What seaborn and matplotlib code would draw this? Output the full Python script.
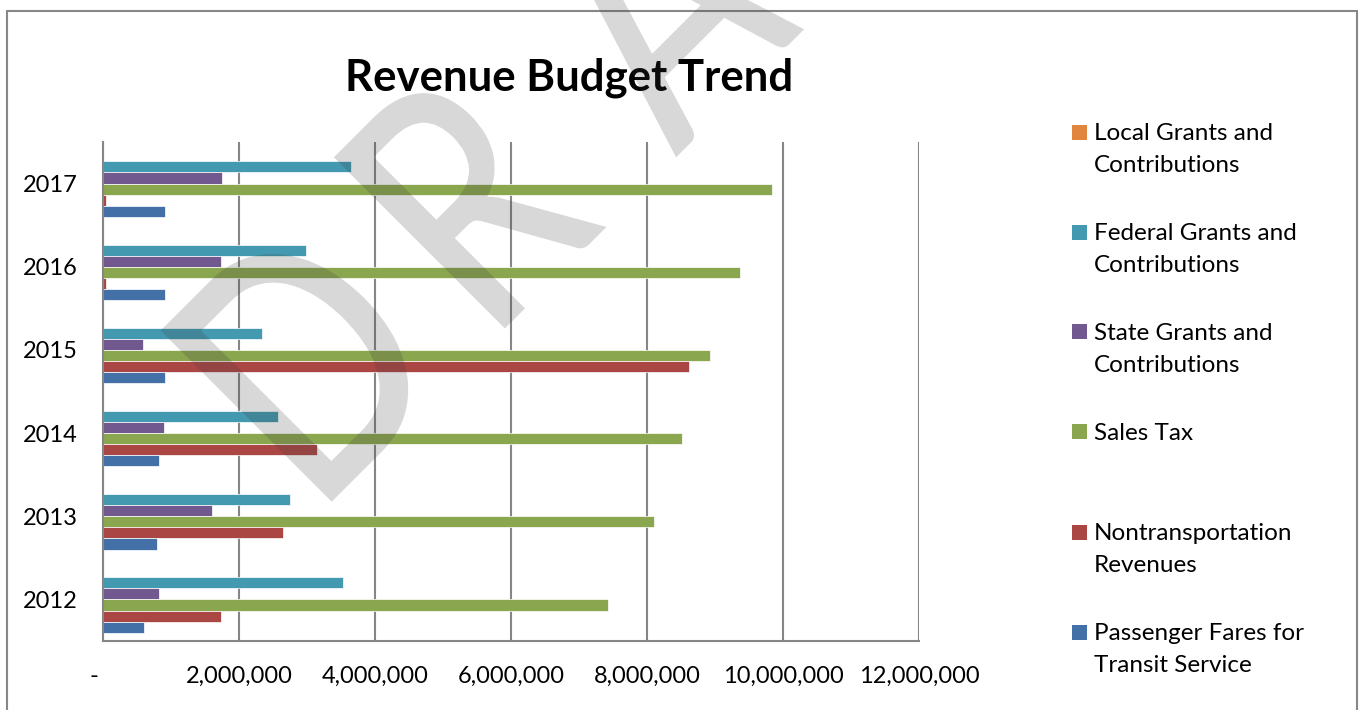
import pandas as pd
import numpy as np
import matplotlib
matplotlib.use('Agg')
import matplotlib.pyplot as plt
import seaborn as sns
from matplotlib.patches import Rectangle, PathPatch
from matplotlib.ticker import FuncFormatter
from matplotlib.textpath import TextPath
from matplotlib.font_manager import FontProperties
from matplotlib.transforms import Affine2D

# %% data
years = ['2012', '2013', '2014', '2015', '2016', '2017']
sources = ['Local Grants and\nContributions', 'Federal Grants and\nContributions',
           'State Grants and\nContributions', 'Sales Tax',
           'Nontransportation\nRevenues', 'Passenger Fares for\nTransit Service']
local_grants = [0, 0, 0, 0, 0, 0]
federal_grants = [3525000, 2750000, 2567000, 2339000, 2981000, 3643000]
state_grants = [829000, 1603000, 893000, 584000, 1731000, 1750000]
sales_tax = [7420000, 8100000, 8510000, 8920000, 9370000, 9840000]
nontransportation = [1731000, 2647000, 3153000, 8620000, 40000, 40000]
passenger_fares = [609000, 790000, 819000, 907000, 907000, 907000]
colors = ['#E0863E', '#4399AF', '#71588F', '#8AA64E', '#AA4644', '#4470A8']

df = pd.DataFrame({
    'Year': years * 6,
    'Source': np.repeat(sources, len(years)),
    'Revenue': local_grants + federal_grants + state_grants + sales_tax
               + nontransportation + passenger_fares,
})

# %% style
plt.rcParams['font.family'] = 'Lato'
GRID = '#868686'
W, H = 1362, 710

fig = plt.figure(figsize=(W / 100, H / 100), dpi=100)
fig.patch.set_facecolor('white')
ax = fig.add_axes([103 / W, 1 - 641 / H, (919 - 103) / W, (641 - 142) / H])

sns.barplot(data=df, x='Revenue', y='Year', hue='Source', order=years[::-1],
            hue_order=sources, palette=colors, orient='h', width=0.8,
            saturation=1, edgecolor='white', linewidth=0.5, legend=False, ax=ax)

ax.set_xlim(0, 12e6)
ax.set_xticks(np.arange(0, 12e6 + 1, 2e6))
ax.xaxis.set_major_formatter(FuncFormatter(lambda v, p: '-   ' if v == 0 else f'{v:,.0f}'))
ax.set_xlabel('')
ax.set_ylabel('')
ax.grid(axis='x', color=GRID, linewidth=1.5)
ax.set_axisbelow(True)
for s in ['top', 'right']:
    ax.spines[s].set_visible(False)
for s in ['left', 'bottom']:
    ax.spines[s].set_color(GRID)
    ax.spines[s].set_linewidth(1.5)
ax.tick_params(axis='x', length=0, labelsize=17, pad=18)
ax.tick_params(axis='y', length=0, labelsize=17, pad=18)

# title
fig.text(569 / W, 1 - 91 / H, 'Revenue Budget Trend', ha='center', va='baseline',
         fontsize=31.5, fontweight='bold')

# legend (one entry every 100 px, square next to the first text line)
for i, (lab, c) in enumerate(zip(sources, colors)):
    y_sq = 132 + 100 * i
    fig.add_artist(Rectangle((1072 / W, 1 - (y_sq + 7.5) / H), 15 / W, 15 / H,
                             transform=fig.transFigure, facecolor=c, edgecolor='none'))
    for j, line in enumerate(lab.split('\n')):
        fig.text(1094 / W, 1 - (y_sq + 8 + 31.7 * j) / H, line, ha='left',
                 va='baseline', fontsize=17.5)

# outer frame
fig.add_artist(Rectangle((7 / W, -0.1), (1357 - 7) / W, 1.1 - 11 / H,
                         transform=fig.transFigure, fill=False,
                         edgecolor='#878787', linewidth=1.5))

# DRAFT watermark, rotated 45 degrees, letters placed along the baseline
wm_letters = ['D', 'R', 'A', 'F', 'T']
wm_offsets = [0, 245, 487, 727, 930]
fp = FontProperties(family='Lato', weight='medium')
d_ext = TextPath((0, 0), 'D', size=100, prop=fp).get_extents()
k = 242 / d_ext.height
cx = 167 / (d_ext.width * k)
to_fig = Affine2D().scale(1 / W, 1 / H) + fig.transFigure
for ch, off in zip(wm_letters, wm_offsets):
    tp = TextPath((0, 0), ch, size=100, prop=fp)
    x0 = tp.get_extents().x0
    tr = (Affine2D().translate(-x0, 0).scale(k * cx, k).translate(off, 0)
          .rotate_deg(45).translate(331.7, H - 501.7))
    fig.add_artist(PathPatch(tr.transform_path(tp), transform=to_fig,
                             facecolor='#3c3c3c', edgecolor='none', alpha=0.2,
                             zorder=10))

fig.savefig('out.png', dpi=100)
